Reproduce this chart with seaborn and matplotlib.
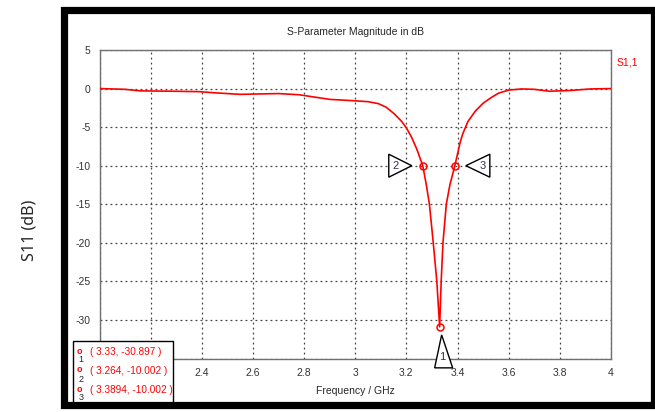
import pandas as pd
import matplotlib.pyplot as plt
import matplotlib.transforms as mtransforms
from matplotlib.patches import Rectangle, Polygon
import seaborn as sns

# Datos (S11 en dB frente a frecuencia en GHz)
freq = [2.0, 2.1, 2.16, 2.3, 2.39, 2.45, 2.55, 2.62, 2.7, 2.78, 2.84, 2.9,
        2.98, 3.05, 3.09, 3.12, 3.15, 3.18, 3.2, 3.22, 3.24, 3.264, 3.278,
        3.29, 3.305, 3.319, 3.33, 3.336, 3.343, 3.356, 3.37, 3.3894, 3.41,
        3.42, 3.44, 3.47, 3.5, 3.53, 3.56, 3.6, 3.65, 3.7, 3.76, 3.84, 3.92,
        4.0]
s11 = [0.0, -0.1, -0.3, -0.35, -0.4, -0.55, -0.75, -0.7, -0.65, -0.8, -1.1,
       -1.4, -1.55, -1.7, -1.95, -2.4, -3.2, -4.2, -5.1, -6.3, -7.8, -10.0,
       -12.5, -15.0, -20.0, -25.0, -30.897, -25.0, -20.0, -15.0, -12.5,
       -10.0, -7.0, -5.9, -4.3, -2.9, -1.9, -1.2, -0.6, -0.2, -0.05, -0.1,
       -0.35, -0.25, -0.05, 0.0]

# Marcadores
mk_id = ['1', '2', '3']
mk_freq = [3.33, 3.264, 3.3894]
mk_val = [-30.897, -10.002, -10.002]
mk_txt = ['( 3.33, -30.897 )', '( 3.264, -10.002 )', '( 3.3894, -10.002 )']

# 2, 2.2 y -35 quedan tapados por el recuadro de marcadores
xticks = [2.0, 2.2, 2.4, 2.6, 2.8, 3.0, 3.2, 3.4, 3.6, 3.8, 4.0]
xtick_labels = ['', '', '2.4', '2.6', '2.8', '3', '3.2', '3.4', '3.6', '3.8', '4']
yticks = [-35, -30, -25, -20, -15, -10, -5, 0, 5]
ytick_labels = ['', '-30', '-25', '-20', '-15', '-10', '-5', '0', '5']

data = pd.DataFrame({'freq': freq, 's11': s11})

sns.set_style('white')
plt.rcParams['font.family'] = ['Liberation Sans', 'DejaVu Sans']

fig = plt.figure(figsize=(6.55, 4.12), dpi=100)
ax = fig.add_axes([99.5 / 655, 1 - 358.5 / 412, 511.5 / 655, 308.5 / 412])

sns.lineplot(x='freq', y='s11', data=data, color='#ff0000', linewidth=1.2,
             ax=ax, zorder=3)
ax.plot(mk_freq, mk_val, 'o', ms=5, mfc='none', mec='#ff0000', mew=1.1,
        zorder=4)

ax.set_xlim(2.0, 4.0)
ax.set_ylim(-35, 5)
ax.set_xticks(xticks)
ax.set_xticklabels(xtick_labels)
ax.set_yticks(yticks)
ax.set_yticklabels(ytick_labels)
ax.tick_params(labelsize=7.5, colors='#333333', length=3, width=0.8)
ax.grid(True, color='#444444', linestyle=(0, (1.5, 2.5)), linewidth=0.9)
for sp in ax.spines.values():
    sp.set_color('#707070')
    sp.set_linewidth(1.0)
ax.set_xlabel('Frequency / GHz', fontsize=7.5, labelpad=6)
ax.set_ylabel('')
ax.set_title('S-Parameter Magnitude in dB', fontsize=7.5, pad=11)
ax.text(1.01, 0.958, 'S1,1', transform=ax.transAxes, color='#ff0000',
        fontsize=7.5, ha='left', va='center')

# Triangulos de los marcadores (offsets en pixeles respecto al punto)
tri_shapes = {
    '1': [(2, -8), (-5, -41), (13, -41)],
    '2': [(-11, 0), (-34, 11.5), (-34, -11.5)],
    '3': [(11, 0), (35, 11.5), (35, -11.5)],
}
lbl_pos = {'1': (3, -30), '2': (-27, 0), '3': (28, 0)}
for i, f, v in zip(mk_id, mk_freq, mk_val):
    trans = fig.dpi_scale_trans + mtransforms.ScaledTranslation(f, v, ax.transData)
    verts = [(px / 100, py / 100) for px, py in tri_shapes[i]]
    tri = Polygon(verts, closed=True, facecolor='white', edgecolor='black',
                  linewidth=1.0, transform=trans, clip_on=False, zorder=6)
    ax.add_patch(tri)
    lx, ly = lbl_pos[i]
    ax.text(lx / 100, ly / 100, i, transform=trans, fontsize=8,
            color='#333344', ha='center', va='center', zorder=7)

# Recuadro con los valores de los marcadores
fig.patches.append(Rectangle((73 / 655, 1 - 404 / 412), 100 / 655, 63 / 412,
                             transform=fig.transFigure, facecolor='white',
                             edgecolor='black', linewidth=1.0, zorder=5))
for k, (i, t) in enumerate(zip(mk_id, mk_txt)):
    yy = 352 + k * 19
    fig.text(79 / 655, 1 - (yy - 1) / 412, 'o', color='#ff0000', fontsize=6.5,
             fontweight='bold', ha='center', va='center', zorder=6)
    fig.text(81 / 655, 1 - (yy + 8) / 412, i, color='#222233', fontsize=6.5,
             ha='center', va='center', zorder=6)
    fig.text(90 / 655, 1 - yy / 412, t, color='#ff0000', fontsize=7.2,
             ha='left', va='center', zorder=6)

# Marco negro exterior
fig.patches.append(Rectangle((64 / 655, 1 - 405 / 412), 589.5 / 655, 395.5 / 412,
                             transform=fig.transFigure, facecolor='none',
                             edgecolor='black', linewidth=5.2, zorder=8))

fig.text(30 / 655, 1 - 230 / 412, 'S11 (dB)', rotation=90, fontsize=11.5,
         family=['Noto Sans', 'DejaVu Sans'], ha='center', va='center')

fig.savefig('out.png', dpi=100)
